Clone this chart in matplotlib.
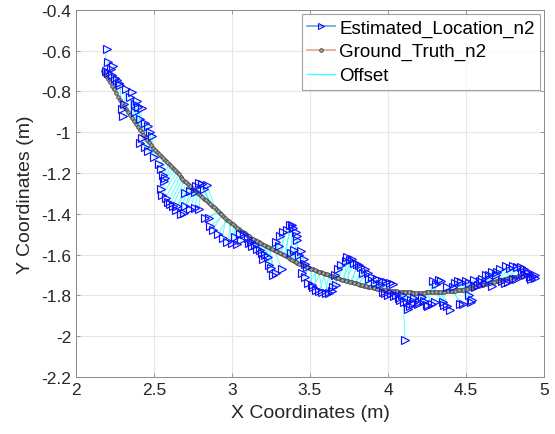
#!/usr/bin/env python3

"""
plot.py

Estimated location vs ground truth (node n2), with offset lines.
Output: out.png
"""

import numpy as np
import matplotlib.pyplot as plt
from matplotlib.lines import Line2D

# ground truth track (m), first pass of samples
gt_x = [2.170, 2.195, 2.220, 2.245, 2.270, 2.295, 2.320, 2.345, 2.370, 2.395,
        2.420, 2.445, 2.470, 2.495, 2.520, 2.545, 2.570, 2.595, 2.620, 2.645,
        2.670, 2.695, 2.720, 2.745, 2.770, 2.795, 2.820, 2.845, 2.870, 2.895,
        2.920, 2.945, 2.970, 2.995, 3.020, 3.045, 3.070, 3.095, 3.120, 3.145,
        3.170, 3.195, 3.220, 3.245, 3.270, 3.295, 3.320, 3.345, 3.370, 3.395,
        3.420, 3.445, 3.470, 3.495, 3.520, 3.545, 3.570, 3.595, 3.620, 3.645,
        3.670, 3.695, 3.720, 3.745, 3.770, 3.795, 3.820, 3.845, 3.870, 3.895,
        3.920, 3.945, 3.970, 3.995, 4.020, 4.045, 4.070, 4.095, 4.120, 4.145,
        4.170, 4.195, 4.220, 4.245, 4.270, 4.295, 4.320, 4.345, 4.370, 4.395,
        4.420, 4.445, 4.470, 4.495, 4.520, 4.545, 4.570, 4.595, 4.620, 4.645,
        4.670, 4.695, 4.720, 4.745, 4.770, 4.795, 4.820, 4.845, 4.870, 4.895,
        4.920]
gt_y = [-0.700, -0.725, -0.755, -0.790, -0.825, -0.855, -0.885, -0.915, -0.945, -0.975,
        -1.000, -1.025, -1.050, -1.075, -1.097, -1.117, -1.137, -1.157, -1.177, -1.197,
        -1.217, -1.237, -1.255, -1.273, -1.290, -1.307, -1.325, -1.343, -1.360, -1.377,
        -1.394, -1.411, -1.428, -1.444, -1.460, -1.475, -1.490, -1.503, -1.516, -1.528,
        -1.539, -1.549, -1.559, -1.569, -1.579, -1.589, -1.599, -1.609, -1.619, -1.629,
        -1.639, -1.648, -1.657, -1.665, -1.672, -1.679, -1.686, -1.693, -1.700, -1.707,
        -1.713, -1.719, -1.724, -1.729, -1.735, -1.741, -1.747, -1.752, -1.757, -1.761,
        -1.765, -1.768, -1.771, -1.774, -1.777, -1.779, -1.781, -1.783, -1.784, -1.785,
        -1.786, -1.786, -1.786, -1.785, -1.785, -1.784, -1.783, -1.781, -1.780, -1.779,
        -1.777, -1.775, -1.772, -1.769, -1.765, -1.761, -1.756, -1.751, -1.746, -1.741,
        -1.735, -1.730, -1.725, -1.720, -1.716, -1.712, -1.708, -1.705, -1.702, -1.699,
        -1.696]

# estimated locations (m), same order as gt_x / gt_y
est_x = [2.200, 2.205, 2.240, 2.205, 2.250, 2.275, 2.295, 2.300, 2.360, 2.390,
         2.400, 2.410, 2.460, 2.490, 2.410, 2.460, 2.530, 2.560, 2.565, 2.550,
         2.590, 2.620, 2.670, 2.700, 2.730, 2.790, 2.730, 2.770, 2.790, 2.840,
         2.830, 2.860, 2.910, 2.970, 3.030, 3.060, 3.080, 3.110, 3.130, 3.160,
         3.190, 3.230, 3.240, 3.260, 3.320, 3.280, 3.330, 3.370, 3.390, 3.420,
         3.420, 3.380, 3.440, 3.470, 3.450, 3.490, 3.520, 3.560, 3.600, 3.640,
         3.670, 3.680, 3.740, 3.755, 3.800, 3.830, 3.850, 3.900, 3.930, 3.960,
         3.990, 4.030, 3.970, 4.000, 4.040, 4.070, 4.100, 4.110, 4.130, 4.150,
         4.190, 4.220, 4.250, 4.280, 4.290, 4.330, 4.350, 4.400, 4.380, 4.450,
         4.460, 4.500, 4.530, 4.550, 4.520, 4.580, 4.630, 4.600, 4.670, 4.670,
         4.700, 4.760, 4.750, 4.800, 4.850, 4.820, 4.890, 4.880, 4.920, 4.940,
         4.910]
est_y = [-0.590, -0.655, -0.675, -0.710, -0.735, -0.760, -0.885, -0.920, -0.805, -0.845,
         -0.875, -0.935, -0.970, -1.020, -1.055, -1.090, -1.155, -1.210, -1.240, -1.310,
         -1.340, -1.360, -1.400, -1.360, -1.375, -1.375, -1.290, -1.265, -1.250, -1.260,
         -1.420, -1.460, -1.500, -1.540, -1.550, -1.530, -1.500, -1.545, -1.560, -1.570,
         -1.590, -1.610, -1.650, -1.700, -1.670, -1.540, -1.490, -1.455, -1.470, -1.510,
         -1.530, -1.590, -1.580, -1.645, -1.690, -1.740, -1.760, -1.780, -1.790, -1.780,
         -1.750, -1.670, -1.610, -1.625, -1.645, -1.660, -1.670, -1.710, -1.720, -1.730,
         -1.735, -1.745, -1.785, -1.800, -1.805, -1.815, -1.830, -2.020, -1.865, -1.820,
         -1.840, -1.810, -1.845, -1.840, -1.730, -1.725, -1.830, -1.870, -1.760, -1.730,
         -1.840, -1.730, -1.830, -1.725, -1.800, -1.750, -1.700, -1.720, -1.685, -1.755,
         -1.685, -1.655, -1.740, -1.655, -1.660, -1.720, -1.680, -1.700, -1.720, -1.700,
         -1.710]

# ground truth track (m), second pass of samples (in between the first pass)
gt2_x = [2.1825, 2.2075, 2.2325, 2.2575, 2.2825, 2.3075, 2.3325, 2.3575, 2.3825, 2.4075,
         2.4325, 2.4575, 2.4825, 2.5075, 2.5325, 2.5575, 2.5825, 2.6075, 2.6325, 2.6575,
         2.6825, 2.7075, 2.7325, 2.7575, 2.7825, 2.8075, 2.8325, 2.8575, 2.8825, 2.9075,
         2.9325, 2.9575, 2.9825, 3.0075, 3.0325, 3.0575, 3.0825, 3.1075, 3.1325, 3.1575,
         3.1825, 3.2075, 3.2325, 3.2575, 3.2825, 3.3075, 3.3325, 3.3575, 3.3825, 3.4075,
         3.4325, 3.4575, 3.4825, 3.5075, 3.5325, 3.5575, 3.5825, 3.6075, 3.6325, 3.6575,
         3.6825, 3.7075, 3.7325, 3.7575, 3.7825, 3.8075, 3.8325, 3.8575, 3.8825, 3.9075,
         3.9325, 3.9575, 3.9825, 4.0075, 4.0325, 4.0575, 4.0825, 4.1075, 4.1325, 4.1575,
         4.1825, 4.2075, 4.2325, 4.2575, 4.2825, 4.3075, 4.3325, 4.3575, 4.3825, 4.4075,
         4.4325, 4.4575, 4.4825, 4.5075, 4.5325, 4.5575, 4.5825, 4.6075, 4.6325, 4.6575,
         4.6825, 4.7075, 4.7325, 4.7575, 4.7825, 4.8075, 4.8325, 4.8575, 4.8825, 4.9075]
gt2_y = [-0.712, -0.740, -0.772, -0.808, -0.840, -0.870, -0.900, -0.930, -0.960, -0.988,
         -1.012, -1.038, -1.062, -1.086, -1.107, -1.127, -1.147, -1.167, -1.187, -1.207,
         -1.227, -1.246, -1.264, -1.282, -1.298, -1.316, -1.334, -1.352, -1.368, -1.386,
         -1.402, -1.420, -1.436, -1.452, -1.468, -1.482, -1.496, -1.510, -1.522, -1.534,
         -1.544, -1.554, -1.564, -1.574, -1.584, -1.594, -1.604, -1.614, -1.624, -1.634,
         -1.644, -1.652, -1.661, -1.668, -1.676, -1.683, -1.690, -1.697, -1.704, -1.710,
         -1.716, -1.722, -1.727, -1.732, -1.738, -1.744, -1.750, -1.755, -1.759, -1.763,
         -1.767, -1.770, -1.773, -1.776, -1.778, -1.780, -1.782, -1.784, -1.785, -1.786,
         -1.786, -1.786, -1.786, -1.785, -1.785, -1.784, -1.782, -1.781, -1.780, -1.778,
         -1.776, -1.774, -1.771, -1.767, -1.763, -1.759, -1.754, -1.749, -1.744, -1.738,
         -1.733, -1.728, -1.722, -1.718, -1.714, -1.710, -1.707, -1.704, -1.701, -1.698]

# estimated locations (m), same order as gt2_x / gt2_y
est2_x = [2.190, 2.225, 2.230, 2.265, 2.285, 2.320, 2.310, 2.345, 2.375, 2.420,
          2.380, 2.440, 2.475, 2.420, 2.440, 2.500, 2.545, 2.570, 2.545, 2.575,
          2.605, 2.640, 2.650, 2.690, 2.760, 2.700, 2.760, 2.810, 2.820, 2.850,
          2.880, 2.940, 3.000, 3.020, 3.050, 3.100, 3.120, 3.150, 3.180, 3.210,
          3.200, 3.250, 3.280, 3.300, 3.310, 3.350, 3.385, 3.410, 3.400, 3.430,
          3.460, 3.480, 3.470, 3.510, 3.540, 3.580, 3.620, 3.650, 3.660, 3.700,
          3.730, 3.770, 3.780, 3.815, 3.840, 3.870, 3.880, 3.920, 3.950, 4.010,
          3.980, 4.020, 4.050, 4.080, 4.090, 4.120, 4.140, 4.160, 4.170, 4.200,
          4.230, 4.260, 4.300, 4.310, 4.340, 4.360, 4.380, 4.420, 4.430, 4.480,
          4.470, 4.520, 4.540, 4.560, 4.590, 4.620, 4.650, 4.650, 4.690, 4.720,
          4.730, 4.780, 4.770, 4.830, 4.800, 4.860, 4.870, 4.900, 4.930, 4.945]
est2_y = [-0.700, -0.690, -0.720, -0.745, -0.770, -0.790, -0.860, -0.825, -0.860, -0.880,
          -0.900, -0.955, -1.000, -1.030, -1.070, -1.120, -1.180, -1.225, -1.280, -1.320,
          -1.350, -1.380, -1.360, -1.395, -1.370, -1.300, -1.295, -1.255, -1.280, -1.420,
          -1.480, -1.520, -1.545, -1.515, -1.500, -1.520, -1.540, -1.555, -1.575, -1.600,
          -1.620, -1.665, -1.690, -1.560, -1.510, -1.480, -1.455, -1.490, -1.575, -1.600,
          -1.620, -1.660, -1.710, -1.750, -1.775, -1.785, -1.790, -1.760, -1.700, -1.650,
          -1.630, -1.620, -1.640, -1.650, -1.690, -1.690, -1.720, -1.740, -1.745, -1.740,
          -1.790, -1.790, -1.800, -1.820, -1.800, -1.830, -1.850, -1.835, -1.815, -1.830,
          -1.825, -1.850, -1.830, -1.745, -1.730, -1.845, -1.850, -1.760, -1.740, -1.840,
          -1.735, -1.740, -1.820, -1.760, -1.730, -1.740, -1.700, -1.720, -1.700, -1.670,
          -1.730, -1.665, -1.735, -1.660, -1.720, -1.690, -1.670, -1.690, -1.705, -1.715]

x_ticks = [2, 2.5, 3, 3.5, 4, 4.5, 5]
y_ticks = [-2.2, -2, -1.8, -1.6, -1.4, -1.2, -1, -0.8, -0.6, -0.4]

EST_LINE = "#5aa5dc"
EST_MARK = "#1010ff"
GT_LINE = "#e6a58a"
GT_MARK = "#3c3c3c"
GT_FILL = "#a8a8a8"
OFFSET = "#40ffff"

plt.rcParams["font.family"] = ["Liberation Sans", "DejaVu Sans"]


def main():
    gx = np.array(gt_x + gt2_x)
    gy = np.array(gt_y + gt2_y)
    ex = np.array(est_x + est2_x)
    ey = np.array(est_y + est2_y)

    fig = plt.figure(figsize=(5.55, 4.35), dpi=100)
    ax = fig.add_axes([0.137, 0.131, 0.843, 0.844])

    # offset segments between each estimate and its ground truth
    ax.plot(np.vstack([gx, ex]), np.vstack([gy, ey]), color=OFFSET, lw=0.6, zorder=2)
    ax.plot(gx, gy, ls="none", marker="o", ms=2.6, mfc=GT_FILL, mec=GT_MARK,
            mew=0.6, zorder=3)
    ax.plot(ex, ey, ls="none", marker=">", ms=6, mfc="none", mec=EST_MARK,
            mew=0.85, zorder=4)

    ax.set_xlim(2, 5)
    ax.set_ylim(-2.2, -0.4)
    ax.set_xticks(x_ticks)
    ax.set_xticklabels([f"{t:g}" for t in x_ticks])
    ax.set_yticks(y_ticks)
    ax.set_yticklabels([f"{t:g}" for t in y_ticks])
    ax.tick_params(direction="in", length=3, width=0.6, colors="#8a8a8a",
                   labelcolor="#262626", labelsize=12.5, top=True, right=True)
    for s in ax.spines.values():
        s.set_color("#8a8a8a")
        s.set_linewidth(0.7)
    ax.grid(True, color="#e6e6e6", lw=0.8)
    ax.set_axisbelow(True)

    ax.set_xlabel("X Coordinates (m)", fontsize=14, color="#262626", labelpad=5)
    ax.set_ylabel("Y Coordinates (m)", fontsize=14, color="#262626", labelpad=5)

    handles = [
        Line2D([], [], color=EST_LINE, lw=1.2, marker=">", ms=5, mfc="none",
               mec=EST_MARK, mew=0.8),
        Line2D([], [], color=GT_LINE, lw=1.2, marker="o", ms=2.6, mfc=GT_FILL,
               mec=GT_MARK, mew=0.6),
        Line2D([], [], color=OFFSET, lw=1.0),
    ]
    leg = ax.legend(handles, ["Estimated_Location_n2", "Ground_Truth_n2", "Offset"],
                    loc="upper right", fontsize=13.5, frameon=True, fancybox=False,
                    edgecolor="#8a8a8a", borderaxespad=0.2, handlelength=1.5,
                    handletextpad=0.2, labelspacing=0.35, borderpad=0.3)
    leg.get_frame().set_linewidth(0.8)

    fig.savefig("out.png", dpi=100)
    plt.close(fig)


if __name__ == "__main__":
    main()
